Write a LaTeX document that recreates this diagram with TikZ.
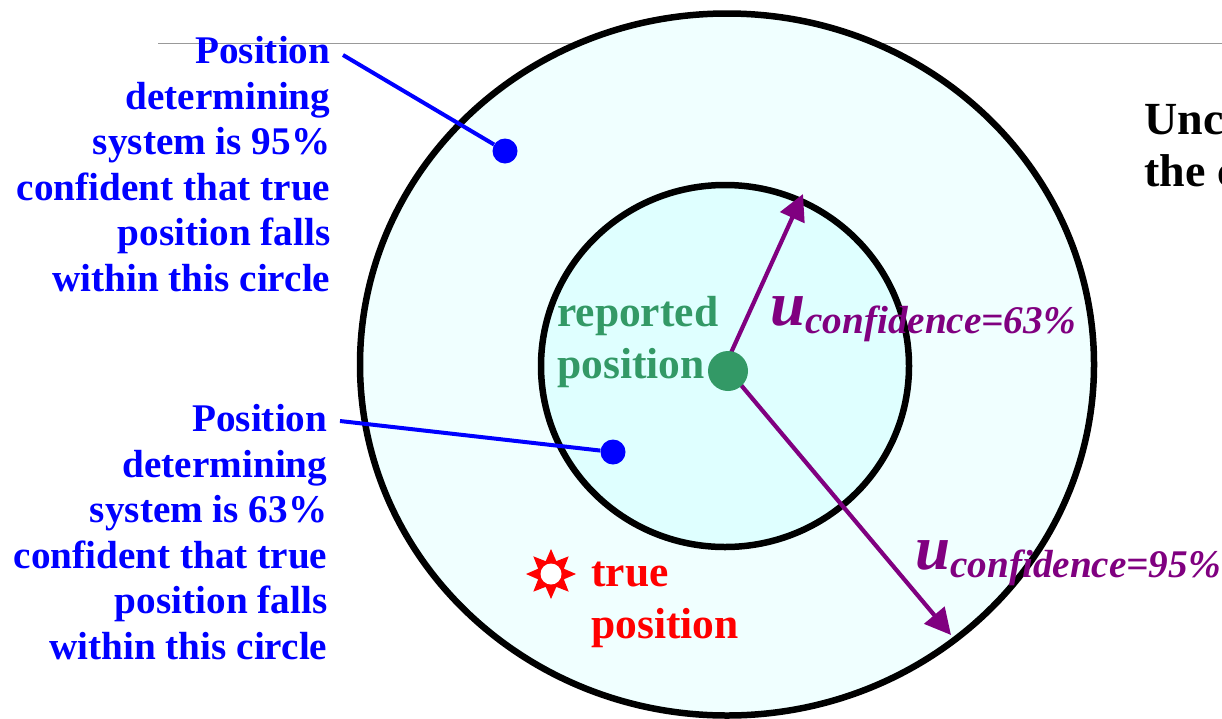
\documentclass[tikz,border=0pt]{standalone}
\usepackage{fontspec}
\setmainfont{Liberation Serif}
\usetikzlibrary{shapes.geometric,arrows.meta}
\definecolor{outerfill}{HTML}{F0FFFF}
\definecolor{innerfill}{HTML}{DFFFFF}
\definecolor{seagreen}{HTML}{339966}
\definecolor{purp}{HTML}{800080}
\definecolor{lead}{HTML}{0000FF}
\tikzset{
  x=1pt,y=-1pt,
  circ/.style={draw=black,line width=6.5pt},
  blabel/.style={font=\fontsize{39.2}{45.6}\selectfont\bfseries,text=lead,align=right,anchor=north east,inner sep=0pt},
  dotb/.style={circle,fill=lead,minimum size=25pt,inner sep=0pt},
  leadline/.style={draw=lead,line width=4pt},
  vec/.style={draw=purp,line width=4.2pt,-{Triangle[length=26pt,width=26pt]}},
  ulabel/.style={text=purp,anchor=base west,inner sep=0pt},
  big/.style={font=\fontsize{43.5}{52}\selectfont\bfseries,align=left,anchor=north west,inner sep=0pt}
}
\newcommand{\ulab}[1]{{\fontsize{63}{63}\selectfont\bfseries\itshape u}\raisebox{-8pt}{\fontsize{39.2}{39}\selectfont\bfseries\itshape confidence=#1\%}}
\begin{document}
\begin{tikzpicture}
\useasboundingbox (0,0) rectangle (1222,718);
\fill[white] (0,0) rectangle (1222,718);
\draw[draw=black!40,line width=1pt] (158,43) -- (1222,43);
\draw[circ,fill=outerfill] (727,364.5) ellipse [x radius=367,y radius=351];
\draw[circ,fill=innerfill] (725,366) ellipse [x radius=184,y radius=181];
\coordinate (origin) at (725,366);
\coordinate (tipA) at (803,194);
\coordinate (tipB) at (951,635);
\draw[vec] (origin) -- (tipA);
\draw[vec] (origin) -- (tipB);
\node[circle,fill=seagreen,minimum size=40pt,inner sep=0pt] (center) at (728,371) {};
\node[dotb] (dotA) at (505,151) {};
\node[dotb] (dotB) at (613,452) {};
\coordinate (startA) at (343,55);
\coordinate (startB) at (340,421);
\draw[leadline] (startA) -- (dotA);
\draw[leadline] (startB) -- (dotB);
\node[blabel] (labA) at (330.5,36) {Position\\determining\\system is 95\%\\confident that true\\position falls\\within this circle};
\node[blabel] (labB) at (327.5,404) {Position\\determining\\system is 63\%\\confident that true\\position falls\\within this circle};
\node[big,text=seagreen] (rep) at (557,296) {reported\\position};
\node[big,text=red] (tru) at (591,562) {true\\position};
\node[star,star points=8,star point ratio=1.8,minimum size=50pt,inner sep=0pt,fill=red] (sun) at (551,574) {};
\node[circle,fill=white,minimum size=21pt,inner sep=0pt] (suncore) at (551,574) {};
\node[ulabel] (ua) at (770,325) {\ulab{63}};
\node[ulabel] (ub) at (915,569) {\ulab{95}};
\node[font=\fontsize{46}{52}\selectfont\bfseries,align=left,anchor=north west,inner sep=0pt] (unc) at (1144,104) {Unc\\the c};
\end{tikzpicture}
\end{document}
